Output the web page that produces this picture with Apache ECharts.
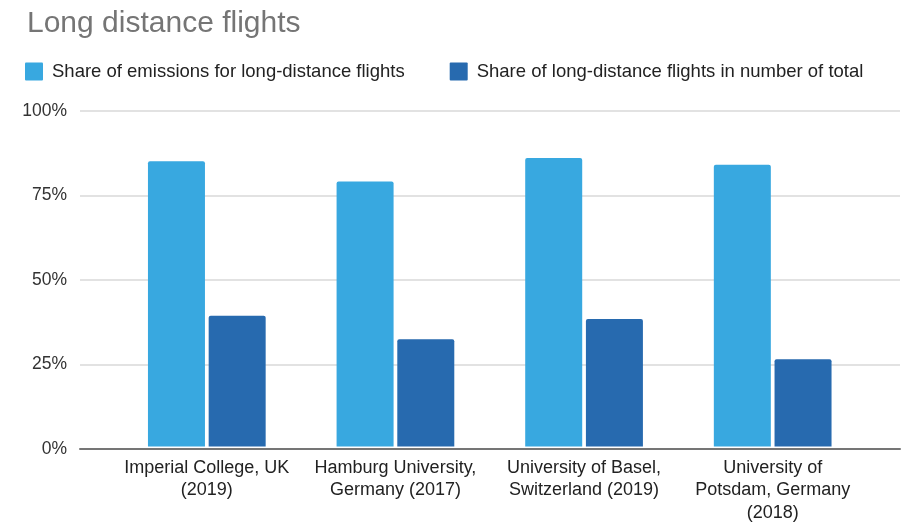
<!DOCTYPE html>
<html>
<head>
<meta charset="utf-8">
<script src="https://cdn.jsdelivr.net/npm/echarts@6/dist/echarts.min.js"></script>
<style>
html,body{margin:0;padding:0;background:#fff;}
#main{width:909px;height:524px;}
</style>
</head>
<body>
<div id="main"></div>
<script>
// data
var categories = [
	"Imperial College, UK\n(2019)",
	"Hamburg University,\nGermany (2017)",
	"University of Basel,\nSwitzerland (2019)",
	"University of\nPotsdam, Germany\n(2018)"
];
var seriesNames = [
	"Share of emissions for long-distance flights",
	"Share of long-distance flights in number of total"
];
var emissionsShare = [85, 79, 86, 84];
var flightsShare = [39, 32, 38, 26];
var yTicks = [0, 25, 50, 75, 100];

var font = "'Liberation Sans', Arial, sans-serif";

var myChart = echarts.init(document.getElementById('main'));
var option = {
	animation: false,
	title: {
		text: 'Long distance flights',
		left: 22,
		top: 4,
		textStyle: { fontFamily: font, fontSize: 30, fontWeight: 'normal', color: '#757575' }
	},
	legend: {
		left: 20,
		top: 57,
		itemWidth: 18,
		itemHeight: 18,
		itemGap: 45,
		icon: 'path://M1,0 L17,0 Q18,0 18,1 L18,17 Q18,18 17,18 L1,18 Q0,18 0,17 L0,1 Q0,0 1,0 Z',
		data: seriesNames,
		textStyle: { fontFamily: font, fontSize: 18.5, color: '#222', padding: [0, 0, 0, 4] }
	},
	grid: [
		// full width grid: gridlines, y labels, baseline
		{ left: 80, right: 9, top: 111, bottom: 75 },
		// narrower grid that holds the bars
		{ left: 112.5, right: 42, top: 111, bottom: 75 }
	],
	xAxis: [
		{
			gridIndex: 0, type: 'value', min: 0, max: 1,
			axisLine: { show: true, lineStyle: { color: '#757575', width: 2 } },
			axisTick: { show: false }, axisLabel: { show: false }, splitLine: { show: false },
			z: 5
		},
		{
			gridIndex: 1, type: 'category', data: categories,
			axisLine: { show: false }, axisTick: { show: false },
			axisLabel: { fontFamily: font, fontSize: 18, color: '#222', lineHeight: 22.5, margin: 10, interval: 0 }
		}
	],
	yAxis: [
		{
			gridIndex: 0, type: 'value', min: yTicks[0], max: yTicks[yTicks.length - 1], interval: 25,
			axisLine: { show: false }, axisTick: { show: false },
			axisLabel: { formatter: '{value}%', fontFamily: font, fontSize: 17.5, color: '#333', margin: 13 },
			splitLine: { lineStyle: { color: '#d9d9d9', width: 1.5 } }
		},
		{
			gridIndex: 1, type: 'value', min: 0, max: 100, show: false,
			splitLine: { show: false }
		}
	],
	series: [
		{
			name: seriesNames[0], type: 'bar', xAxisIndex: 1, yAxisIndex: 1,
			data: emissionsShare, barWidth: 57, barGap: '6.5%',
			itemStyle: { color: '#38a8e0', borderRadius: [2, 2, 0, 0] }
		},
		{
			name: seriesNames[1], type: 'bar', xAxisIndex: 1, yAxisIndex: 1,
			data: flightsShare, barWidth: 57,
			itemStyle: { color: '#276aaf', borderRadius: [2, 2, 0, 0] }
		}
	]
};
myChart.setOption(option);
</script>
</body>
</html>
